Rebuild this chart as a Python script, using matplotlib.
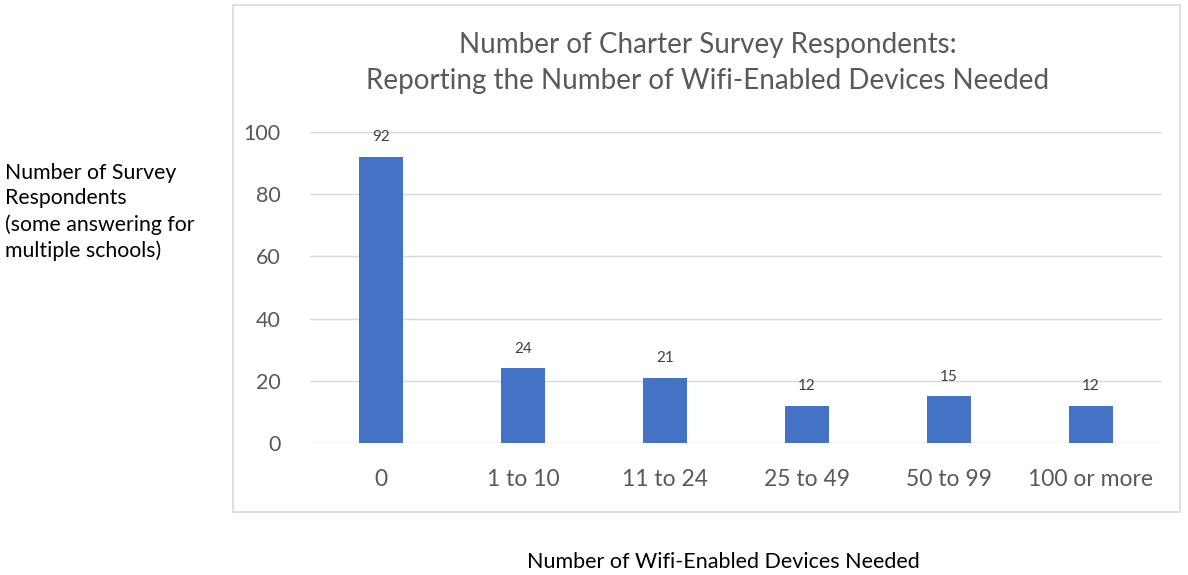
import matplotlib.pyplot as plt
from matplotlib.patches import Rectangle

categories = ['0', '1 to 10', '11 to 24', '25 to 49', '50 to 99', '100 or more']
respondents = [92, 24, 21, 12, 15, 12]
y_ticks = [0, 20, 40, 60, 80, 100]

plt.rcParams['font.family'] = ['Lato', 'DejaVu Sans']

fig = plt.figure(figsize=(11.88, 5.75), dpi=100)

# light frame around the chart area
fig.patches.append(Rectangle((233 / 1188, 1 - 512 / 575), 947 / 1188, 507 / 575,
                             transform=fig.transFigure, facecolor='none',
                             edgecolor='#d9d9d9', linewidth=1.2))

ax = fig.add_axes([310 / 1188, 1 - 443 / 575, 852 / 1188, 311 / 575])
x = range(len(categories))
bars = ax.bar(x, respondents, width=0.31, color='#4472C4', zorder=3)

for xi, v in zip(x, respondents):
    ax.annotate(str(v), (xi, v), xytext=(0, 9), textcoords='offset points',
                ha='center', va='bottom', fontsize=11, color='#404040')

ax.set_xlim(-0.5, len(categories) - 0.5)
ax.set_ylim(0, 100)
ax.set_yticks(y_ticks)
ax.set_xticks(list(x))
ax.set_xticklabels(categories)
ax.grid(axis='y', color='#d9d9d9', linewidth=1, zorder=0)
for s in ax.spines.values():
    s.set_visible(False)
ax.tick_params(axis='both', length=0, colors='#595959')
ax.tick_params(axis='y', pad=21, labelsize=15.5)
ax.tick_params(axis='x', pad=19, labelsize=16.5)

fig.text(708 / 1188, 1 - 63 / 575,
         'Number of Charter Survey Respondents:\nReporting the Number of Wifi-Enabled Devices Needed',
         ha='center', va='center', fontsize=20, color='#595959', linespacing=1.5)

fig.text(5 / 1188, 1 - 212 / 575,
         'Number of Survey\nRespondents\n(some answering for\nmultiple schools)',
         ha='left', va='center', fontsize=15.3, color='black', linespacing=1.36)

fig.text(723 / 1188, 1 - 562 / 575, 'Number of Wifi-Enabled Devices Needed',
         ha='center', va='center', fontsize=15.5, color='black')

fig.savefig('out.png', dpi=100)
